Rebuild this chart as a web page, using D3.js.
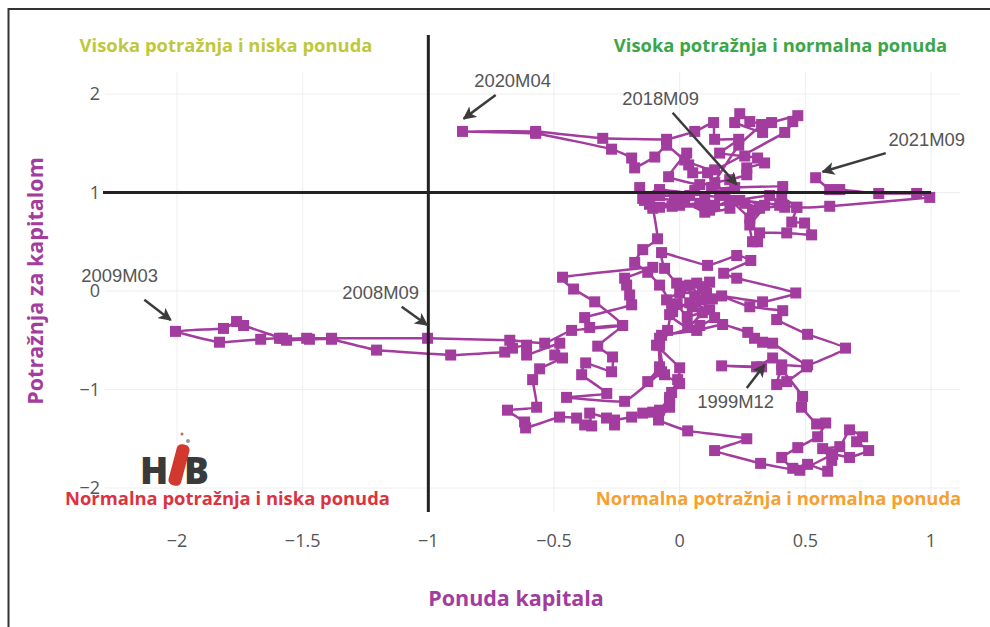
<!DOCTYPE html>
<html>
<head>
<meta charset="utf-8">
<script src="https://cdn.jsdelivr.net/npm/d3@7"></script>
<style>
  html, body { margin: 0; padding: 0; background: #fff; }
  text { font-family: "Open Sans", sans-serif; }
</style>
</head>
<body>
<div id="chart"></div>
<script>
// ponuda kapitala (x) i potraznja za kapitalom (y), 1999M12 - 2021M09
const ponuda = [
  .326,.167,.306,.370,.406,.505,.426,.386,.406,.489,.485,.545,.581,.549,.470,.406,.450,.509,.589,.605,
  .569,.637,.676,.728,.704,.752,.676,.609,.478,.322,.139,.267,.032,-.084,-.040,-.040,-.032,-.008,0,-.092,
  -.072,.068,.171,.271,.298,.330,.370,.509,.660,.509,.386,.410,.279,.167,.330,.462,.227,.175,.283,.227,
  .111,-.072,-.060,-.012,.068,.119,.107,0,-.052,-.028,.040,.119,
  .060,.020,.090,.130,.050,-.010,.030,.090,
  .032,-.040,.040,.088,.139,.080,-.080,-.080,
  -.127,-.072,-.219,-.450,-.290,-.390,-.374,-.271,-.267,-.326,-.227,-.358,-.378,-.191,-.199,-.211,-.219,-.107,-.466,-.422,
  -.338,-.227,-.430,-.537,-.676,-1.003,-1.385,-1.484,-1.580,-1.735,-1.763,-1.815,-2.006,-1.831,-1.667,-1.592,-1.564,-1.473,-1.385,-1.206,
  -.911,-.696,-.665,-.609,-.609,-.477,-.497,-.466,-.557,-.585,-.569,-.685,-.617,-.613,-.478,-.410,-.378,-.350,-.358,-.291,
  -.259,-.259,-.191,-.147,-.107,-.080,-.040,0,-.060,-.080,-.048,-.032,-.080,-.127,-.179,-.147,-.088,-.107,-.147,-.159,
  -.140,-.120,-.030,.020,.060,.100,.140,.180,.200,.100,-.020,
  -.080,.040,0,.080,.119,.199,.279,.290,.239,.358,.418,.406,.466,.446,.497,.525,.426,.318,.310,.290,
  .279,.338,.159,.111,.052,.036,.028,-.044,.080,.199,.267,.267,.338,.310,.259,.159,.235,.139,.135,.060,
  -.052,-.306,-.573,-.864,-.573,-.271,-.191,-.179,-.099,-.052,.020,.139,.418,.450,.470,.366,.330,.219,.239,.279,
  .326,.235,.127,.219,.410,.398,.318,.259,.139,-.080,-.020,-.119,-.080,.466,.597,.995,.943,.792,.637,.597,.541
];
const potraznja = [
  -.77,-.76,-.77,-.68,-.75,-.77,-.92,-.95,-.80,-1.07,-1.18,-1.35,-1.34,-1.48,-1.59,-1.69,-1.80,-1.76,-1.83,-1.72,
  -1.60,-1.58,-1.41,-1.48,-1.53,-1.62,-1.69,-1.66,-1.82,-1.75,-1.62,-1.50,-1.42,-1.31,-1.18,-1.11,-1.03,-.90,-.78,-.55,
  -.45,-.40,-.34,-.42,-.48,-.52,-.53,-.75,-.58,-.44,-.29,-.20,-.16,-.05,-.11,-.02,.13,.18,.31,.36,
  .26,.39,.23,.08,.08,.09,-.02,-.02,-.09,-.21,-.12,-.19,
  -.05,.05,.04,-.08,-.16,-.13,-.26,-.22,
  -.37,-.24,.06,-.09,-.27,-.35,-.48,-.77,
  -.92,-.82,-1.12,-1.08,-1.04,-.85,-.73,-.82,-.67,-.56,-.35,-.37,-.27,-.14,-.04,.06,.13,.24,.14,.02,
  -.11,-.35,-.40,-.53,-.50,-.48,-.48,-.48,-.48,-.35,-.31,-.38,-.41,-.52,-.49,-.48,-.50,-.49,-.49,-.60,
  -.65,-.62,-.58,-.55,-.65,-.53,-.65,-.68,-.79,-.90,-1.18,-1.21,-1.33,-1.39,-1.28,-1.29,-1.36,-1.37,-1.24,-1.29,
  -1.36,-1.31,-1.28,-1.24,-1.23,-1.21,-1.08,-.94,-.85,-.55,-.40,-.14,.06,.19,.29,.42,.53,.84,.94,1.05,
  .92,.88,.86,.95,1.02,.93,1.10,.98,.84,.80,.96,
  .97,.97,.87,.89,.82,.92,.74,.82,.92,.97,.85,.95,.85,.70,.69,.57,.59,.59,.50,.50,
  .67,.87,.97,1.20,1.20,1.28,1.40,1.16,1.08,1.13,1.18,1.25,1.30,1.35,1.37,1.40,1.54,1.54,1.71,1.62,
  1.54,1.55,1.62,1.62,1.60,1.44,1.35,1.25,1.36,1.48,1.33,1.23,1.61,1.72,1.78,1.71,1.61,1.71,1.80,1.72,
  1.69,1.48,1.05,1.05,1.06,.87,.84,.89,.87,.85,.92,.95,1.03,.85,.86,.95,.99,.99,1.03,1.03,1.15
];

const xTicks = [-2, -1.5, -1, -0.5, 0, 0.5, 1];
const yTicks = [-2, -1, 0, 1, 2];

// oznacene tacke: tekst, vrh strelice, pozicija teksta, rep strelice (u jedinicama osa)
const anotacije = [
  {label: "2020M04", x: -0.859, y: 1.75, tx: -0.665, ty: 2.13, ax: -0.732, ay: 1.99},
  {label: "2018M09", x: 0.227, y: 1.08, tx: -0.076, ty: 1.95, ax: -0.028, ay: 1.81},
  {label: "2021M09", x: 0.569, y: 1.21, tx: 0.983, ty: 1.53, ax: 0.82, ay: 1.40},
  {label: "2009M03", x: -2.025, y: -0.295, tx: -2.228, ty: 0.15, ax: -2.13, ay: -0.09},
  {label: "2008M09", x: -1.005, y: -0.345, tx: -1.19, ty: -0.02, ax: -1.106, ay: -0.16},
  {label: "1999M12", x: 0.338, y: -0.75, tx: 0.223, ty: -1.13, ax: 0.267, ay: -0.985}
];

const kvadranti = [
  {label: "Visoka potražnja i niska ponuda", color: "#bfc83c", px: 226, py: 52},
  {label: "Visoka potražnja i normalna ponuda", color: "#3aa648", px: 780.5, py: 52},
  {label: "Normalna potražnja i niska ponuda", color: "#dd3340", px: 227.5, py: 505},
  {label: "Normalna potražnja i normalna ponuda", color: "#f7a030", px: 778.5, py: 505}
];

const width = 990, height = 627;
const purple = "#a23c9e";

const x = d3.scaleLinear().domain([-2, 1]).range([177, 931]);
const y = d3.scaleLinear().domain([-2, 2]).range([488, 94]);

const svg = d3.select("#chart").append("svg")
    .attr("width", width)
    .attr("height", height)
    .style("display", "block");

// okvir slike, samo lijevo i gore
svg.append("path")
    .attr("d", `M8.5,${height} V9 H${width}`)
    .attr("fill", "none")
    .attr("stroke", "#333")
    .attr("stroke-width", 2);

// grid
svg.append("g").selectAll("line").data(xTicks).join("line")
    .attr("x1", d => x(d)).attr("x2", d => x(d))
    .attr("y1", 72).attr("y2", 512)
    .attr("stroke", "#eeeeee").attr("stroke-width", 1);
svg.append("g").selectAll("line").data(yTicks).join("line")
    .attr("x1", 105).attr("x2", 960)
    .attr("y1", d => y(d)).attr("y2", d => y(d))
    .attr("stroke", "#eeeeee").attr("stroke-width", 1);

// tick labels
svg.append("g").selectAll("text").data(xTicks).join("text")
    .attr("x", d => x(d)).attr("y", 547)
    .attr("text-anchor", "middle")
    .attr("font-size", 18).attr("fill", "#555")
    .text(d => d3.format("")(d).replace("-", "−"));
svg.append("g").selectAll("text").data(yTicks).join("text")
    .attr("x", 100).attr("y", d => y(d) + 6)
    .attr("text-anchor", "end")
    .attr("font-size", 18).attr("fill", "#555")
    .text(d => d3.format("")(d).replace("-", "−"));

// serija
const pts = ponuda.map((d, i) => [d, potraznja[i]]);
const line = d3.line()
    .x(d => x(d[0])).y(d => y(d[1]))
    .curve(d3.curveCardinal.tension(0.7));

svg.append("path")
    .attr("d", line(pts))
    .attr("fill", "none")
    .attr("stroke", purple)
    .attr("stroke-width", 2.5);

svg.append("g").selectAll("rect").data(pts).join("rect")
    .attr("x", d => x(d[0]) - 5.5).attr("y", d => y(d[1]) - 5.5)
    .attr("width", 11).attr("height", 11)
    .attr("fill", purple);

// crne linije y=1 i x=-1
svg.append("line")
    .attr("x1", 103).attr("x2", x(1))
    .attr("y1", y(1)).attr("y2", y(1))
    .attr("stroke", "#222").attr("stroke-width", 3);
svg.append("line")
    .attr("x1", x(-1)).attr("x2", x(-1))
    .attr("y1", 35).attr("y2", 512)
    .attr("stroke", "#222").attr("stroke-width", 3);

// strelice
const defs = svg.append("defs");
defs.append("marker")
    .attr("id", "arrow")
    .attr("viewBox", "0 0 10 10")
    .attr("refX", 9).attr("refY", 5)
    .attr("markerUnits", "userSpaceOnUse")
    .attr("markerWidth", 13).attr("markerHeight", 13)
    .attr("orient", "auto")
    .append("path")
    .attr("d", "M0,0 L10,5 L0,10 L2.5,5 Z")
    .attr("fill", "#3c3c3c");

const ann = svg.append("g");
ann.selectAll("line").data(anotacije).join("line")
    .attr("x1", d => x(d.ax)).attr("y1", d => y(d.ay))
    .attr("x2", d => x(d.x)).attr("y2", d => y(d.y))
    .attr("stroke", "#3c3c3c").attr("stroke-width", 2.5)
    .attr("marker-end", "url(#arrow)");
ann.selectAll("text").data(anotacije).join("text")
    .attr("x", d => x(d.tx)).attr("y", d => y(d.ty) + 6)
    .attr("text-anchor", "middle")
    .style("font-family", "'Liberation Sans', sans-serif")
    .attr("font-size", 18.4).attr("fill", "#555")
    .text(d => d.label);

// nazivi osa
svg.append("text")
    .attr("x", 516).attr("y", 606)
    .attr("text-anchor", "middle")
    .attr("font-size", 21.5).attr("font-weight", 700).attr("fill", purple)
    .text("Ponuda kapitala");
svg.append("text")
    .attr("transform", "translate(43,281) rotate(-90)")
    .attr("text-anchor", "middle")
    .attr("font-size", 21.5).attr("font-weight", 700).attr("fill", purple)
    .text("Potražnja za kapitalom");

// logo
const logo = svg.append("g");
logo.append("text").attr("x", 140).attr("y", 484)
    .attr("font-size", 37).attr("font-weight", 800).attr("fill", "#3a3a3a").text("H");
logo.append("text").attr("x", 184).attr("y", 484)
    .attr("font-size", 37).attr("font-weight", 800).attr("fill", "#3a3a3a").text("B");
logo.append("rect")
    .attr("x", -6.5).attr("y", -21).attr("width", 13).attr("height", 42).attr("rx", 5)
    .attr("transform", "translate(179,465) rotate(15)")
    .attr("fill", "#d1392f");
logo.append("circle").attr("cx", 188).attr("cy", 441).attr("r", 2).attr("fill", "#999");
logo.append("circle").attr("cx", 182).attr("cy", 434).attr("r", 1.5).attr("fill", "#c65");

// tekstovi kvadranata
svg.append("g").selectAll("text").data(kvadranti).join("text")
    .attr("x", d => d.px).attr("y", d => d.py)
    .attr("text-anchor", "middle")
    .attr("font-size", 18.4).attr("font-weight", 700)
    .attr("fill", d => d.color)
    .text(d => d.label);
</script>
</body>
</html>
